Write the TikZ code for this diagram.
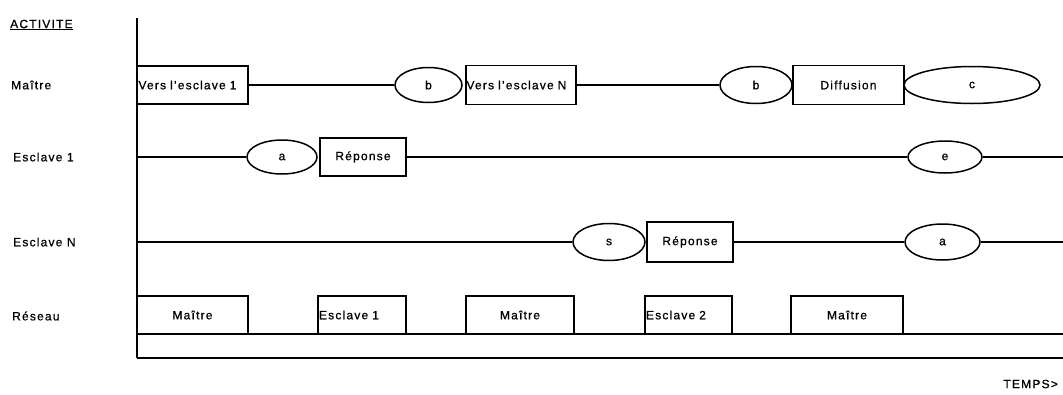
\documentclass[tikz,border=0pt]{standalone}
\usepackage{fontspec}
\setmainfont{Liberation Sans}[LetterSpace=10,FakeBold=0.8]
\usetikzlibrary{shapes.geometric}
\begin{document}
\begin{tikzpicture}[x=1pt,y=-1pt,
  every node/.style={font=\fontsize{12}{14}\selectfont},
  lbl/.style={anchor=west, inner sep=0pt},
  box/.style={draw, line width=1.5pt, rectangle, inner sep=0pt},
  evt/.style={draw, line width=1.5pt, ellipse, inner sep=0pt},
  wire/.style={line width=1.7pt},
  axis/.style={line width=2pt}]
\useasboundingbox (0,0) rectangle (1063,394);
% labels
\node[lbl] (act) at (10,25) {\underline{ACTIVITE}};
\node[lbl] (lm) at (11,85) {Maître};
\node[lbl] (le1) at (13,157) {Esclave 1};
\node[lbl] (leN) at (13,242) {Esclave N};
\node[lbl] (lr) at (12,316) {Réseau};
\node[anchor=east, inner sep=0pt] (temps) at (1058,384) {TEMPS>};
% axis
\coordinate (atop) at (137,18);
\coordinate (abot) at (137,358);
\draw[axis] (atop) -- (abot);
% Maitre row
\node[box, minimum width=111pt, minimum height=38pt, text width=108pt, align=left] (m1) at (192.5,85) {Vers l'esclave 1};
\node[evt, minimum width=67pt, minimum height=35pt] (eb1) at (428.5,85) {b};
\node[box, minimum width=110pt, minimum height=39pt, text width=109pt, align=left] (m2) at (521,85) {Vers l'esclave N};
\node[evt, minimum width=72pt, minimum height=37pt] (eb2) at (756,85) {b};
\node[box, minimum width=111pt, minimum height=39pt] (m3) at (848.5,85) {Diffusion};
\node[evt, minimum width=136pt, minimum height=37pt] (ec) at (972,85) {c};
\draw[wire] (m1.east) -- (eb1.west);
\draw[wire] (m2.east) -- (eb2.west);
% Esclave 1 row
\coordinate (s1) at (137,157);
\coordinate (s1end) at (1063,157);
\node[evt, minimum width=70pt, minimum height=34pt] (ea) at (282,157) {a};
\node[box, minimum width=86pt, minimum height=38pt] (r1) at (363,157) {Réponse};
\node[evt, minimum width=74pt, minimum height=32pt] (ee) at (945,157) {e};
\draw[wire] (s1) -- (ea.west);
\draw[wire] (r1.east) -- (ee.west);
\draw[wire] (ee.east) -- (s1end);
% Esclave N row
\coordinate (sN) at (137,242);
\coordinate (sNend) at (1063,242);
\node[evt, minimum width=72pt, minimum height=37pt] (es) at (609,242) {s};
\node[box, minimum width=86pt, minimum height=40pt] (rN) at (690,242) {Réponse};
\node[evt, minimum width=75pt, minimum height=36pt] (ea2) at (942.5,242) {a};
\draw[wire] (sN) -- (es.west);
\draw[wire] (rN.east) -- (ea2.west);
\draw[wire] (ea2.east) -- (sNend);
% Reseau row
\node[box, minimum width=111pt, minimum height=38pt] (n1) at (192.5,315) {Maître};
\node[box, minimum width=88pt, minimum height=38pt, text width=86pt, align=left] (n2) at (362,315) {Esclave 1};
\node[box, minimum width=108pt, minimum height=38pt] (n3) at (520,315) {Maître};
\node[box, minimum width=87pt, minimum height=38pt, text width=85pt, align=left] (n4) at (688.5,315) {Esclave 2};
\node[box, minimum width=112pt, minimum height=38pt] (n5) at (847,315) {Maître};
\coordinate (b1l) at (137,334);
\coordinate (b1r) at (1063,334);
\coordinate (b2r) at (1063,358);
\draw[axis] (b1l) -- (b1r);
\draw[axis] (abot) -- (b2r);
\end{tikzpicture}
\end{document}
